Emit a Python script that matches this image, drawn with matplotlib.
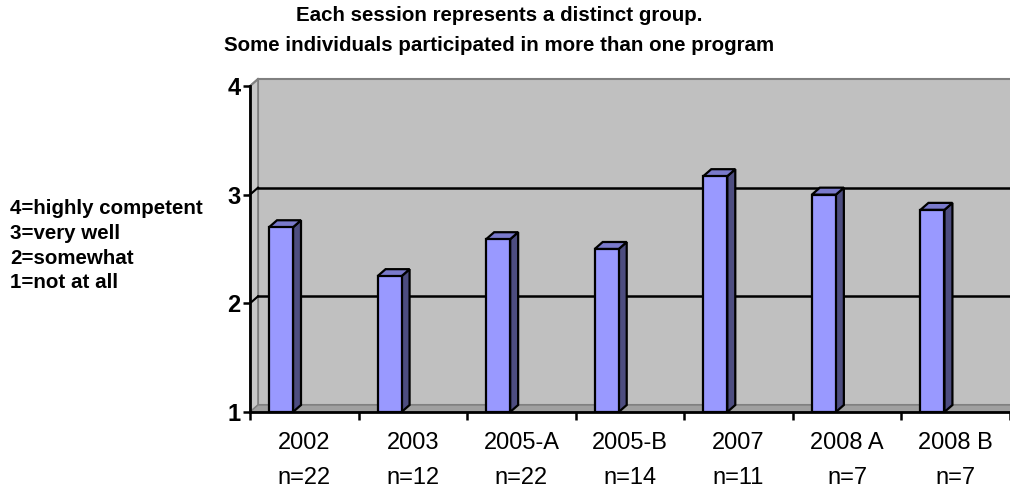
import matplotlib.pyplot as plt
from matplotlib.patches import Polygon

plt.rcParams['font.family'] = ['Liberation Sans', 'DejaVu Sans']

# session scores (1 = not at all ... 4 = highly competent)
sessions = ['2002', '2003', '2005-A', '2005-B', '2007', '2008 A', '2008 B']
group_sizes = [22, 12, 22, 14, 11, 7, 7]
scores = [2.70, 2.25, 2.59, 2.50, 3.17, 3.00, 2.86]
scale_notes = ['4=highly competent', '3=very well', '2=somewhat', '1=not at all']

W, H = 1010, 487
fig = plt.figure(figsize=(W / 100, H / 100), dpi=100)
x0, x1, y_lo, y_hi = 250, 1010, 412, 86
ax = fig.add_axes([x0 / W, 1 - y_lo / H, (x1 - x0) / W, (y_lo - y_hi) / H])
n = len(sessions)
ax.set_xlim(0, n)
ax.set_ylim(1, 4)

# pixel -> data conversions for the 3D depth offset
px_x = n / (x1 - x0)
px_y = 3 / (y_lo - y_hi)
dx, dy = 8 * px_x, 7 * px_y

ax.set_facecolor('none')
wall_kw = dict(clip_on=False, zorder=0)
# back wall
ax.add_patch(Polygon([(dx, 1 + dy), (n + dx, 1 + dy), (n + dx, 4 + dy), (dx, 4 + dy)],
                     closed=True, facecolor='#c0c0c0', edgecolor='#808080', lw=1.5, **wall_kw))
# side wall
ax.add_patch(Polygon([(0, 1), (dx, 1 + dy), (dx, 4 + dy), (0, 4)],
                     closed=True, facecolor='#c8c8c8', edgecolor='#808080', lw=1.2, **wall_kw))
# floor
ax.add_patch(Polygon([(0, 1), (n, 1), (n + dx, 1 + dy), (dx, 1 + dy)],
                     closed=True, facecolor='#a0a0a0', edgecolor='#808080', lw=1.0, **wall_kw))

# gridlines on the back wall with their diagonal on the side wall
for g in [2, 3]:
    ax.plot([dx, n + dx], [g + dy, g + dy], color='black', lw=1.8, zorder=1, clip_on=False)
    ax.plot([0, dx], [g, g + dy], color='black', lw=1.5, zorder=1, clip_on=False)
ax.plot([0, dx], [4, 4 + dy], color='#808080', lw=1.5, zorder=1, clip_on=False)

# columns: front face via bar, then side and top faces
off, bw = 19 * px_x, 24 * px_x
lefts = [i + off for i in range(n)]
ax.bar(lefts, [s - 1 for s in scores], width=bw, bottom=1, align='edge',
       color='#9999ff', edgecolor='black', lw=1.6, zorder=4)
for lx, s in zip(lefts, scores):
    rx = lx + bw
    ax.add_patch(Polygon([(rx, 1), (rx + dx, 1 + dy), (rx + dx, s + dy), (rx, s)],
                         closed=True, facecolor='#4d4d80', edgecolor='black', lw=1.6, zorder=3))
    ax.add_patch(Polygon([(lx, s), (rx, s), (rx + dx, s + dy), (lx + dx, s + dy)],
                         closed=True, facecolor='#7a7acc', edgecolor='black', lw=1.6, zorder=3))

# axes
for side in ['top', 'right']:
    ax.spines[side].set_visible(False)
for side in ['left', 'bottom']:
    ax.spines[side].set_linewidth(2)
    ax.spines[side].set_zorder(5)
ax.set_yticks([1, 2, 3, 4])
ax.set_yticklabels(['1', '2', '3', '4'], fontsize=17, fontweight='bold')
ax.tick_params(axis='y', length=5, width=1.8, pad=2)
ax.set_xticks(range(n + 1))
ax.set_xticklabels([])
ax.tick_params(axis='x', length=6, width=1.8)

# two-line category labels below the floor
for i, (s, g) in enumerate(zip(sessions, group_sizes)):
    ax.text(i + 0.5, 1 - 31 * px_y, s, ha='center', va='center', fontsize=17)
    ax.text(i + 0.5, 1 - 66 * px_y, f'n={g}', ha='center', va='center', fontsize=17)

fig.text(499 / W, 1 - 15.5 / H, 'Each session represents a distinct group.',
         ha='center', va='center', fontsize=14.8, fontweight='bold')
fig.text(499 / W, 1 - 45.5 / H, 'Some individuals participated in more than one program',
         ha='center', va='center', fontsize=14.8, fontweight='bold')

for k, note in enumerate(scale_notes):
    fig.text(10 / W, 1 - (209 + 24.5 * k) / H, note, ha='left', va='center',
             fontsize=14.8, fontweight='bold')

fig.savefig('out.png', dpi=100)
